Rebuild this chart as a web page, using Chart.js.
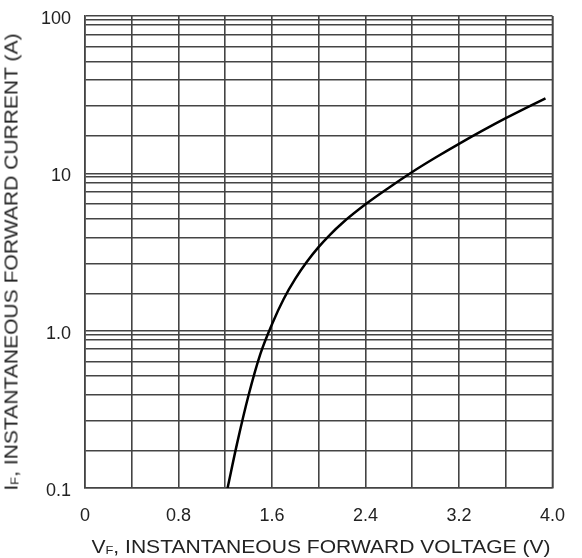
<!DOCTYPE html>
<html>
<head>
<meta charset="utf-8">
<script src="https://cdn.jsdelivr.net/npm/chart.js@4/dist/chart.umd.min.js"></script>
<style>
  body { margin: 0; background: #fff; }
  #wrap { position: relative; width: 582px; height: 558px; font-family: "Liberation Sans", Arial, sans-serif; color: #222; }
  .ttl { position: absolute; font-size: 18px; white-space: nowrap; }
  .ttl sub { font-size: 11px; vertical-align: -1px; }
  #xt { left: 321px; top: 537px; transform: translateX(-50%) scaleX(1.17); }
  #yt { left: 12px; top: 262px; transform: translate(-50%, -50%) rotate(-90deg) scaleX(1.17); }
</style>
</head>
<body>
<div id="wrap">
  <canvas id="chart"></canvas>
  <div class="ttl" id="xt">V<sub>F</sub>, INSTANTANEOUS FORWARD VOLTAGE (V)</div>
  <div class="ttl" id="yt">I<sub>F</sub>, INSTANTANEOUS FORWARD CURRENT (A)</div>
</div>
<script>
// ── Data ──────────────────────────────────────────────────────
const voltage = [1.22, 1.30, 1.40, 1.50, 1.60, 1.70, 1.80, 1.90, 2.00, 2.10, 2.20, 2.40, 2.60, 2.80, 3.00, 3.20, 3.60, 3.94];
const current = [0.10, 0.19, 0.39, 0.71, 1.10, 1.59, 2.14, 2.75, 3.41, 4.10, 4.82, 6.35, 8.10, 10.2, 12.6, 15.4, 22.4, 30.0];

const xTicks = [0, 0.4, 0.8, 1.2, 1.6, 2.0, 2.4, 2.8, 3.2, 3.6, 4.0];
const xLabels = { 0: "0", 0.8: "0.8", 1.6: "1.6", 2.4: "2.4", 3.2: "3.2", 4: "4.0" };

// decade lines + the minor lines as they sit on the printed graph paper
const decades  = [0.1, 1, 10];
const minorPos = [1.72, 2.67, 3.92, 5.14, 6.38, 7.62, 8.73, 9.48];
const yLabels  = { 0.1: "0.1", 1: "1.0", 10: "10", 100: "100" };

const yTicks = [];
decades.forEach((d) => { yTicks.push(d); minorPos.forEach((m) => yTicks.push(d * m)); });
yTicks.push(100);

const GRID = "#444";
const TXT  = "#222";

new Chart(document.getElementById("chart"), {
  type: "line",
  data: {
    datasets: [{
      data: voltage.map((v, i) => ({ x: v, y: current[i] })),
      borderColor: "#000",
      borderWidth: 2.5,
      pointRadius: 0,
      cubicInterpolationMode: "monotone",
      fill: false,
    }],
  },
  options: {
    responsive: true,
    maintainAspectRatio: false,
    animation: false,
    layout: { padding: { top: 16, right: 27, left: 0, bottom: 0 } },
    plugins: { legend: { display: false }, tooltip: { enabled: false } },
    scales: {
      x: {
        type: "linear",
        min: 0, max: 4,
        afterBuildTicks: (s) => { s.ticks = xTicks.map((v) => ({ value: v })); },
        afterFit: (s) => { s.height = 70; },
        grid: { color: GRID, lineWidth: 1.6, drawTicks: false },
        border: { color: GRID, width: 1.6 },
        ticks: {
          autoSkip: false, maxRotation: 0, padding: 17,
          color: TXT, font: { family: "Liberation Sans", size: 18 },
          callback: (v) => xLabels[Math.round(v * 10) / 10] ?? "",
        },
      },
      y: {
        type: "logarithmic",
        min: 0.1, max: 100,
        afterBuildTicks: (s) => { s.ticks = yTicks.map((v) => ({ value: v })); },
        afterFit: (s) => { s.width = 85; s.paddingTop = 0; s.paddingBottom = 0; },
        grid: { color: GRID, lineWidth: 1.6, drawTicks: false },
        border: { color: GRID, width: 1.6 },
        ticks: {
          autoSkip: false, padding: 14, labelOffset: 3,
          color: TXT, font: { family: "Liberation Sans", size: 18 },
          callback: (v) => yLabels[v] ?? "",
        },
      },
    },
  },
  plugins: [{
    // right edge of the grid
    id: "frame",
    afterDraw: (c) => {
      const { ctx, chartArea: a } = c;
      ctx.save();
      ctx.strokeStyle = GRID; ctx.lineWidth = 1.6;
      ctx.beginPath(); ctx.moveTo(a.right, a.top); ctx.lineTo(a.right, a.bottom); ctx.stroke();
      ctx.restore();
    },
  }],
});
</script>
</body>
</html>
